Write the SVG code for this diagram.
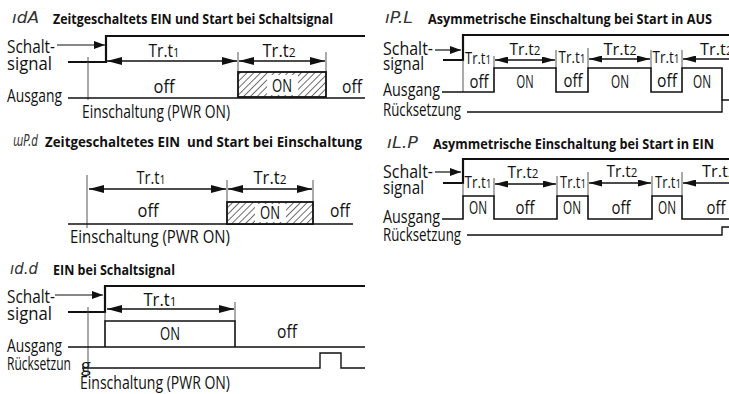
<svg xmlns="http://www.w3.org/2000/svg" width="729" height="394" viewBox="0 0 729 394">
<style>
.t{font-family:'Liberation Sans Narrow','Open Sans','Liberation Sans',sans-serif;font-size:18px;fill:#111}
.r{font-size:16px}
.c{text-anchor:middle}
.ti{font-family:'Liberation Sans Narrow','Open Sans','Liberation Sans',sans-serif;font-size:14px;font-weight:bold;fill:#111;white-space:pre}
.sym{font-family:'DejaVu Sans','Liberation Sans',sans-serif;font-size:15px;font-style:italic;fill:#333}
.sub{font-size:13px}
.r .sub{font-size:12px}
.sig{fill:none;stroke:#111;stroke-width:2.2}
.out{fill:none;stroke:#111;stroke-width:1.6}
.thin{fill:none;stroke:#444;stroke-width:0.9}
.ar{fill:none;stroke:#111;stroke-width:1.3;marker-start:url(#ahL);marker-end:url(#ahL)}
.ars{fill:none;stroke:#111;stroke-width:1.3;marker-start:url(#ahS);marker-end:url(#ahS)}
.arl{fill:none;stroke:#111;stroke-width:1.3;marker-start:url(#ahS)}
.sw{fill:none;stroke:#111;stroke-width:1.2;marker-end:url(#ahW)}
.hatch{fill:url(#hp);stroke:#111;stroke-width:1.8}
</style>
<defs>
<marker id="ahL" markerUnits="userSpaceOnUse" markerWidth="15" markerHeight="8" refX="15" refY="4" orient="auto-start-reverse"><path d="M0,0 L15,4 L0,8 z" fill="#111"/></marker>
<marker id="ahS" markerUnits="userSpaceOnUse" markerWidth="13" markerHeight="7" refX="13" refY="3.5" orient="auto-start-reverse"><path d="M0,0 L13,3.5 L0,7 z" fill="#111"/></marker>
<marker id="ahW" markerUnits="userSpaceOnUse" markerWidth="11" markerHeight="8" refX="11" refY="4" orient="auto"><path d="M0,0 L11,4 L0,8 z" fill="#111"/></marker>
<pattern id="hp" patternUnits="userSpaceOnUse" width="4.8" height="4.8" patternTransform="rotate(45)"><rect width="4.8" height="4.8" fill="#fff"/><line x1="0" y1="0" x2="0" y2="4.8" stroke="#222" stroke-width="1.3"/></pattern>
</defs>

<g id="d1">
<text class="sym" x="12" y="23" textLength="27" lengthAdjust="spacingAndGlyphs">ıdA</text>
<text class="ti" x="53" y="24" textLength="280" lengthAdjust="spacingAndGlyphs">Zeitgeschaltets EIN und Start bei Schaltsignal</text>
<text class="t" x="7" y="53" textLength="48" lengthAdjust="spacingAndGlyphs">Schalt-</text>
<text class="t" x="7" y="70" textLength="45" lengthAdjust="spacingAndGlyphs">signal</text>
<text class="t" x="7" y="102" textLength="55" lengthAdjust="spacingAndGlyphs">Ausgang</text>
<text class="t" x="82" y="118" textLength="148" lengthAdjust="spacingAndGlyphs">Einschaltung (PWR ON)</text>
<g id="d1-lines">
<path class="sw" d="M57,45 H105"/>
<path class="sig" d="M68,62 H106 V36 H365"/>
<path class="thin" d="M88,57 V100 M238,52 V72 M326,52 V72"/>
<path class="out" d="M68,98 H365"/>
<path class="ar" d="M107,61 H237"/>
<path class="ar" d="M239,61 H325"/>
<rect class="hatch" x="238" y="72" width="88" height="25"/>
<rect x="267" y="75" width="31" height="20" fill="#fff"/>
</g>
<text class="t c" x="164" y="57" textLength="31" lengthAdjust="spacingAndGlyphs">Tr.t<tspan class="sub">1</tspan></text>
<text class="t c" x="279" y="57" textLength="33" lengthAdjust="spacingAndGlyphs">Tr.t<tspan class="sub">2</tspan></text>
<text class="t c" x="164" y="93" textLength="21" lengthAdjust="spacingAndGlyphs">off</text>
<text class="t c" x="282" y="92" textLength="20" lengthAdjust="spacingAndGlyphs">ON</text>
<text class="t c" x="352" y="93" textLength="20" lengthAdjust="spacingAndGlyphs">off</text>
</g>

<g id="d2">
<text class="sym" x="13" y="146" textLength="25" lengthAdjust="spacingAndGlyphs">ɯP.d</text>
<text class="ti" x="45" y="147" textLength="317" lengthAdjust="spacingAndGlyphs">Zeitgeschaltetes EIN  und Start bei Einschaltung</text>
<g id="d2-lines">
<path class="thin" d="M87,175 V228 M227,180 V202 M313,180 V202"/>
<path class="out" d="M68,224 H353"/>
<path class="ar" d="M89,189 H226"/>
<path class="ar" d="M228,189 H312"/>
<rect class="hatch" x="227" y="202" width="86" height="22"/>
<rect x="255" y="204" width="31" height="18" fill="#fff"/>
</g>
<text class="t c" x="151" y="184" textLength="29" lengthAdjust="spacingAndGlyphs">Tr.t<tspan class="sub">1</tspan></text>
<text class="t c" x="270" y="184" textLength="33" lengthAdjust="spacingAndGlyphs">Tr.t<tspan class="sub">2</tspan></text>
<text class="t c" x="148" y="217" textLength="21" lengthAdjust="spacingAndGlyphs">off</text>
<text class="t c" x="270" y="219" textLength="20" lengthAdjust="spacingAndGlyphs">ON</text>
<text class="t c" x="340" y="217" textLength="20" lengthAdjust="spacingAndGlyphs">off</text>
<text class="t" x="70" y="243" textLength="160" lengthAdjust="spacingAndGlyphs">Einschaltung (PWR ON)</text>
</g>

<g id="d3">
<text class="sym" x="10" y="274" textLength="28" lengthAdjust="spacingAndGlyphs">ıd.d</text>
<text class="ti" x="53" y="275" textLength="122" lengthAdjust="spacingAndGlyphs">EIN bei Schaltsignal</text>
<text class="t" x="7" y="303" textLength="48" lengthAdjust="spacingAndGlyphs">Schalt-</text>
<text class="t" x="7" y="320" textLength="45" lengthAdjust="spacingAndGlyphs">signal</text>
<text class="t" x="7" y="352" textLength="55" lengthAdjust="spacingAndGlyphs">Ausgang</text>
<text class="t" x="7" y="370" textLength="64" lengthAdjust="spacingAndGlyphs">Rücksetzun</text>
<text class="t" x="81" y="372">g</text>
<text class="t" x="80" y="389" textLength="150" lengthAdjust="spacingAndGlyphs">Einschaltung (PWR ON)</text>
<g id="d3-lines">
<path class="sw" d="M55,295 H103"/>
<path class="sig" d="M68,312 H105 V286 H365"/>
<path class="thin" d="M88,307 V375 M105,312 V321 M235,302 V321"/>
<path class="out" d="M68,347 H365 M105,347 V321 H235 V347"/>
<path class="ar" d="M107,309 H234"/>
<path class="out" d="M82,368 H320 V353 H341 V368 H365" style="stroke-width:1.4"/>
</g>
<text class="t c" x="160" y="306" textLength="33" lengthAdjust="spacingAndGlyphs">Tr.t<tspan class="sub">1</tspan></text>
<text class="t c" x="170" y="340" textLength="20" lengthAdjust="spacingAndGlyphs">ON</text>
<text class="t c" x="287" y="338" textLength="20" lengthAdjust="spacingAndGlyphs">off</text>
</g>

<g id="d4">
<text class="sym" x="385" y="23" textLength="28" lengthAdjust="spacingAndGlyphs">ıP.L</text>
<text class="ti" x="428" y="24" textLength="284" lengthAdjust="spacingAndGlyphs">Asymmetrische Einschaltung bei Start in AUS</text>
<text class="t" x="383" y="55" textLength="50" lengthAdjust="spacingAndGlyphs">Schalt-</text>
<text class="t" x="383" y="70" textLength="41" lengthAdjust="spacingAndGlyphs">signal</text>
<text class="t" x="383" y="96" textLength="57" lengthAdjust="spacingAndGlyphs">Ausgang</text>
<text class="t" x="383" y="116" textLength="78" lengthAdjust="spacingAndGlyphs">Rücksetzung</text>
<g id="d4-lines">
<path class="sw" d="M435,50 H461"/>
<path class="sig" d="M443,60 H463 V35 H729"/>
<path class="thin" d="M463,60 V92 M494,56 V68 M556,50 V68 M588,48 V68 M651,50 V68 M682,50 V68"/>
<path class="out" d="M442,92 H494 V68 H556 V92 H588 V68 H651 V92 H682 V68 H722 V100 H729"/>
<path class="out" d="M467,112 H722 V100" style="stroke-width:1.4"/>
<path class="ars" d="M495,60 H555"/>
<path class="ars" d="M589,59 H650"/>
<path class="arl" d="M683,59 H735"/>
</g>
<text class="t r c" x="478" y="64" textLength="26" lengthAdjust="spacingAndGlyphs">Tr.t<tspan class="sub">1</tspan></text>
<text class="t r c" x="572" y="63" textLength="27" lengthAdjust="spacingAndGlyphs">Tr.t<tspan class="sub">1</tspan></text>
<text class="t r c" x="666" y="63" textLength="27" lengthAdjust="spacingAndGlyphs">Tr.t<tspan class="sub">1</tspan></text>
<text class="t r c" x="525" y="55" textLength="31" lengthAdjust="spacingAndGlyphs">Tr.t<tspan class="sub">2</tspan></text>
<text class="t r c" x="620" y="55" textLength="33" lengthAdjust="spacingAndGlyphs">Tr.t<tspan class="sub">2</tspan></text>
<text class="t r" x="700" y="55" textLength="33" lengthAdjust="spacingAndGlyphs">Tr.t<tspan class="sub">2</tspan></text>
<text class="t c" x="479" y="88" textLength="19" lengthAdjust="spacingAndGlyphs">off</text>
<text class="t c" x="573" y="87" textLength="19" lengthAdjust="spacingAndGlyphs">off</text>
<text class="t c" x="667" y="87" textLength="20" lengthAdjust="spacingAndGlyphs">off</text>
<text class="t c" x="525" y="88" textLength="17" lengthAdjust="spacingAndGlyphs">ON</text>
<text class="t c" x="620" y="88" textLength="18" lengthAdjust="spacingAndGlyphs">ON</text>
<text class="t c" x="702" y="88" textLength="18" lengthAdjust="spacingAndGlyphs">ON</text>
</g>

<g id="d5">
<text class="sym" x="387" y="148" textLength="31" lengthAdjust="spacingAndGlyphs">ıL.P</text>
<text class="ti" x="433" y="149" textLength="281" lengthAdjust="spacingAndGlyphs">Asymmetrische Einschaltung bei Start in EIN</text>
<text class="t" x="383" y="178" textLength="50" lengthAdjust="spacingAndGlyphs">Schalt-</text>
<text class="t" x="383" y="194" textLength="41" lengthAdjust="spacingAndGlyphs">signal</text>
<text class="t" x="383" y="223" textLength="57" lengthAdjust="spacingAndGlyphs">Ausgang</text>
<text class="t" x="383" y="241" textLength="78" lengthAdjust="spacingAndGlyphs">Rücksetzung</text>
<g id="d5-lines">
<path class="sw" d="M435,172 H461"/>
<path class="sig" d="M443,183 H463 V159 H729"/>
<path class="thin" d="M463,183 V196 M494,178 V196 M557,176 V196 M588,172 V196 M652,176 V196 M682,172 V196"/>
<path class="out" d="M442,219 H463 V196 H494 V219 H557 V196 H588 V219 H652 V196 H682 V219 H729"/>
<path class="out" d="M467,235 H722 V227 H729" style="stroke-width:1.4"/>
<path class="ars" d="M495,184 H556"/>
<path class="ars" d="M589,183 H651"/>
<path class="arl" d="M683,183 H735"/>
</g>
<text class="t r c" x="478" y="188" textLength="27" lengthAdjust="spacingAndGlyphs">Tr.t<tspan class="sub">1</tspan></text>
<text class="t r c" x="573" y="188" textLength="26" lengthAdjust="spacingAndGlyphs">Tr.t<tspan class="sub">1</tspan></text>
<text class="t r c" x="668" y="188" textLength="26" lengthAdjust="spacingAndGlyphs">Tr.t<tspan class="sub">1</tspan></text>
<text class="t r c" x="523" y="178" textLength="31" lengthAdjust="spacingAndGlyphs">Tr.t<tspan class="sub">2</tspan></text>
<text class="t r c" x="622" y="177" textLength="31" lengthAdjust="spacingAndGlyphs">Tr.t<tspan class="sub">2</tspan></text>
<text class="t r" x="702" y="177" textLength="33" lengthAdjust="spacingAndGlyphs">Tr.t<tspan class="sub">2</tspan></text>
<text class="t c" x="478" y="214" textLength="18" lengthAdjust="spacingAndGlyphs">ON</text>
<text class="t c" x="572" y="214" textLength="18" lengthAdjust="spacingAndGlyphs">ON</text>
<text class="t c" x="667" y="214" textLength="18" lengthAdjust="spacingAndGlyphs">ON</text>
<text class="t c" x="525" y="214" textLength="19" lengthAdjust="spacingAndGlyphs">off</text>
<text class="t c" x="621" y="214" textLength="19" lengthAdjust="spacingAndGlyphs">off</text>
<text class="t c" x="716" y="214" textLength="19" lengthAdjust="spacingAndGlyphs">off</text>
</g>
</svg>
